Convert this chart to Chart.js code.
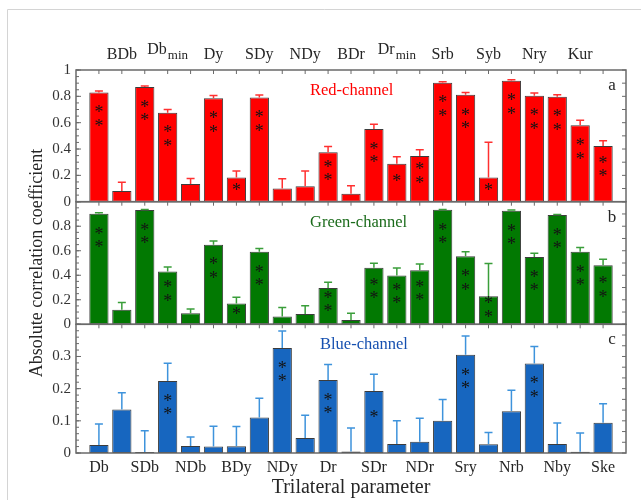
<!DOCTYPE html>
<html>
<head>
<meta charset="utf-8">
<script src="https://cdn.jsdelivr.net/npm/chart.js@4/dist/chart.umd.min.js"></script>
<style>
  html, body { margin: 0; padding: 0; background: #ffffff; }
  #wrap { width: 641px; height: 500px; position: relative; }
</style>
</head>
<body>
<div id="wrap"><canvas id="chart" width="641" height="500"></canvas></div>
<script>
// Trilateral parameters, in plotting order ("_" marks a subscript)
const params = ['Db', 'BDb', 'SDb', 'Db_min', 'NDb', 'Dy', 'BDy', 'SDy', 'NDy', 'NDy',
                'Dr', 'BDr', 'SDr', 'Dr_min', 'NDr', 'Srb', 'Sry', 'Syb', 'Nrb', 'Nry',
                'Nby', 'Kur', 'Ske'];

// Absolute correlation coefficients, upper error and significance stars per channel
const redValues  = [0.830, 0.081, 0.871, 0.676, 0.134, 0.785, 0.183, 0.792, 0.101, 0.117,
                    0.375, 0.061, 0.552, 0.289, 0.347, 0.904, 0.812, 0.183, 0.919, 0.805,
                    0.797, 0.580, 0.423];
const redErrors  = [0.010, 0.066, 0.007, 0.024, 0.043, 0.022, 0.050, 0.018, 0.074, 0.116,
                    0.045, 0.061, 0.036, 0.053, 0.048, 0.007, 0.018, 0.268, 0.007, 0.020,
                    0.016, 0.038, 0.040];
const redStars   = [2, 0, 2, 2, 0, 2, 1, 2, 0, 0, 2, 0, 2, 1, 2, 2, 2, 1, 2, 2, 2, 2, 2];

const greenValues = [0.901, 0.118, 0.932, 0.431, 0.091, 0.649, 0.170, 0.591, 0.063, 0.085,
                     0.297, 0.035, 0.462, 0.398, 0.440, 0.934, 0.555, 0.228, 0.926, 0.549,
                     0.891, 0.591, 0.481];
const greenErrors = [0.009, 0.060, 0.005, 0.036, 0.033, 0.030, 0.050, 0.027, 0.074, 0.066,
                     0.046, 0.055, 0.035, 0.061, 0.052, 0.003, 0.036, 0.267, 0.006, 0.031,
                     0.005, 0.036, 0.049];
const greenStars  = [2, 0, 2, 2, 0, 2, 1, 2, 0, 0, 2, 0, 2, 2, 2, 2, 2, 2, 2, 2, 2, 2, 2];

const blueValues = [0.025, 0.135, 0.003, 0.224, 0.022, 0.020, 0.021, 0.110, 0.326, 0.047,
                    0.227, 0.005, 0.193, 0.028, 0.035, 0.100, 0.305, 0.027, 0.130, 0.278,
                    0.028, 0.004, 0.094];
const blueErrors = [0.065, 0.052, 0.066, 0.055, 0.028, 0.063, 0.061, 0.060, 0.053, 0.070,
                    0.048, 0.073, 0.052, 0.072, 0.073, 0.066, 0.059, 0.037, 0.065, 0.053,
                    0.065, 0.058, 0.059];
const blueStars  = [0, 0, 0, 2, 0, 0, 0, 0, 2, 0, 2, 0, 1, 0, 0, 0, 2, 0, 0, 2, 0, 0, 0];

// y-axis tick values labelled on each panel
const redTicks   = [0, 0.2, 0.4, 0.6, 0.8, 1];
const greenTicks = [0, 0.2, 0.4, 0.6, 0.8];
const blueTicks  = [0, 0.1, 0.2, 0.3];

const SERIF = "'Liberation Serif', 'Times New Roman', serif";
const INK = '#262626';

// one empty slot on each side of the parameter list
const slots = ['', ...params.map(p => p.replace('_', '')), ''];
const padded = arr => [null, ...arr, null];

const panels = [
  { axis: 'yRed', values: redValues, errors: redErrors, stars: redStars,
    title: 'Red-channel', titleColor: '#ff0000', titleAt: 0.4255, letter: 'a',
    errColor: '#ff3030', major: 0.2, minor: 0.05, right: 0.1 },
  { axis: 'yGreen', values: greenValues, errors: greenErrors, stars: greenStars,
    title: 'Green-channel', titleColor: '#1b6b1b', titleAt: 0.4255, letter: 'b',
    errColor: '#3a9e3a', major: 0.2, minor: 0.05, right: 0.1 },
  { axis: 'yBlue', values: blueValues, errors: blueErrors, stars: blueStars,
    title: 'Blue-channel', titleColor: '#1650b0', titleAt: 0.4436, letter: 'c',
    errColor: '#3e93dc', major: 0.1, minor: 0.02, right: 0.1 / 3 }
];

function tickRun(ctx, scale, step, x, len) {
  const n = Math.round((scale.max - scale.min) / step);
  for (let k = 0; k <= n; k++) {
    const y = scale.getPixelForValue(scale.min + k * step);
    ctx.beginPath();
    ctx.moveTo(x, y);
    ctx.lineTo(x + len, y);
    ctx.stroke();
  }
}

const panelDecor = {
  id: 'panelDecor',
  beforeDraw(chart) {
    const ctx = chart.ctx;
    ctx.save();
    ctx.strokeStyle = '#d4d4d4';
    ctx.lineWidth = 1;
    ctx.beginPath();
    ctx.moveTo(7.5, 500);
    ctx.lineTo(7.5, 9.5);
    ctx.lineTo(641, 9.5);
    ctx.stroke();
    ctx.restore();
  },
  afterDatasetsDraw(chart) {
    const ctx = chart.ctx;
    const area = chart.chartArea;
    const xs = chart.scales.x;
    ctx.save();

    panels.forEach(p => {
      const ys = chart.scales[p.axis];
      const top = ys.top, bottom = ys.bottom;

      // error bars (upper side only)
      ctx.strokeStyle = p.errColor;
      ctx.lineWidth = 1.5;
      p.values.forEach((v, i) => {
        const x = xs.getPixelForValue(i + 1);
        const y0 = ys.getPixelForValue(v);
        const y1 = ys.getPixelForValue(v + p.errors[i]);
        ctx.beginPath();
        ctx.moveTo(x, y0);
        ctx.lineTo(x, y1);
        ctx.moveTo(x - 4, y1);
        ctx.lineTo(x + 4, y1);
        ctx.stroke();
      });

      // significance stars inside the bars
      ctx.fillStyle = '#141414';
      ctx.font = '18px ' + SERIF;
      ctx.textAlign = 'center';
      ctx.textBaseline = 'alphabetic';
      const m = ctx.measureText('*');
      const shift = (m.actualBoundingBoxAscent - m.actualBoundingBoxDescent) / 2;
      p.values.forEach((v, i) => {
        const n = p.stars[i];
        if (!n) return;
        const x = xs.getPixelForValue(i + 1);
        const yTop = ys.getPixelForValue(v);
        const h = ys.getPixelForValue(0) - yTop;
        const c = yTop + Math.min(0.36 * h, 23);
        const centres = n === 1 ? [c] : [c - 6.75, c + 6.75];
        centres.forEach(cy => ctx.fillText('*', x, cy + shift));
      });

      // frame
      ctx.strokeStyle = '#6a6a6a';
      ctx.lineWidth = 1.5;
      ctx.strokeRect(area.left, top, area.right - area.left, bottom - top);

      // inward ticks
      ctx.lineWidth = 1;
      tickRun(ctx, ys, p.major, area.left, 5);
      tickRun(ctx, ys, p.minor, area.left, 3);
      tickRun(ctx, ys, p.right, area.right, -4);
      for (let i = 1; i <= params.length; i++) {
        const x = xs.getPixelForValue(i);
        ctx.beginPath();
        ctx.moveTo(x, top);
        ctx.lineTo(x, top + 4);
        ctx.stroke();
      }

      // panel title and letter
      ctx.textBaseline = 'middle';
      ctx.textAlign = 'left';
      ctx.font = '16.5px ' + SERIF;
      ctx.fillStyle = p.titleColor;
      ctx.fillText(p.title, area.left + p.titleAt * (area.right - area.left), top + 20.5);
      ctx.textAlign = 'center';
      ctx.fillStyle = INK;
      ctx.font = '17px ' + SERIF;
      ctx.fillText(p.letter, area.right - 14, top + 15.5);
    });

    // parameter names along the top (every second slot)
    ctx.fillStyle = INK;
    ctx.textBaseline = 'alphabetic';
    params.forEach((name, i) => {
      if (i % 2 === 0) return;
      const x = xs.getPixelForValue(i + 1);
      const base = 58.5;
      const [main, sub] = name.split('_');
      ctx.font = '16px ' + SERIF;
      if (!sub) {
        ctx.textAlign = 'center';
        ctx.fillText(main, x, base);
        return;
      }
      const wMain = ctx.measureText(main).width;
      ctx.font = '13px ' + SERIF;
      const wSub = ctx.measureText(sub).width;
      const left = x - (wMain + wSub + 1) / 2;
      ctx.textAlign = 'left';
      ctx.font = '16px ' + SERIF;
      ctx.fillText(main, left, base - 5);
      ctx.font = '13px ' + SERIF;
      ctx.fillText(sub, left + wMain + 1, base);
    });
    ctx.restore();
  }
};

function yScale(weight, max, step, shown, title) {
  const scale = {
    type: 'linear',
    position: 'left',
    stack: 'panels',
    stackWeight: weight,
    min: 0,
    max: max,
    grid: { display: false, drawTicks: false },
    border: { display: false },
    ticks: {
      stepSize: step,
      autoSkip: false,
      padding: 5,
      color: '#333333',
      font: { family: SERIF, size: 15 },
      callback: v => shown.some(t => Math.abs(t - v) < 1e-6) ? String(+v.toFixed(2)) : ''
    },
    afterFit: s => { s.width = 76; }
  };
  if (title) scale.title = title;
  return scale;
}

// y-axis title, shared by all three panels (carried by the middle one)
const yTitle = {
  display: true,
  text: 'Absolute correlation coefficient',
  color: INK,
  font: { family: SERIF, size: 18 },
  padding: { top: 26, bottom: 0 }
};

const barStyle = {
  grouped: false,
  barPercentage: 0.84,
  categoryPercentage: 1,
  borderWidth: 1,
  borderColor: '#3c3c3c',
  borderSkipped: false
};

new Chart(document.getElementById('chart'), {
  type: 'bar',
  data: {
    labels: slots,
    datasets: [
      Object.assign({ label: 'Red-channel', data: padded(redValues), yAxisID: 'yRed',
        backgroundColor: '#ff0000' }, barStyle),
      Object.assign({ label: 'Green-channel', data: padded(greenValues), yAxisID: 'yGreen',
        backgroundColor: '#027902' }, barStyle),
      Object.assign({ label: 'Blue-channel', data: padded(blueValues), yAxisID: 'yBlue',
        backgroundColor: '#1766bf' }, barStyle)
    ]
  },
  options: {
    responsive: false,
    animation: false,
    devicePixelRatio: 1,
    layout: { padding: { left: 0, right: 15, top: 70, bottom: 0 } },
    plugins: { legend: { display: false }, tooltip: { enabled: false } },
    scales: {
      x: {
        type: 'category',
        offset: false,
        grid: { display: false, drawTicks: false },
        border: { display: false },
        ticks: {
          autoSkip: false,
          maxRotation: 0,
          minRotation: 0,
          padding: 5,
          color: INK,
          font: { family: SERIF, size: 16 },
          callback: (v, i) => (i % 2 === 1 ? slots[i] : '')
        },
        title: {
          display: true,
          text: 'Trilateral parameter',
          color: INK,
          font: { family: SERIF, size: 20 },
          padding: { top: 0, bottom: 0 }
        },
        afterFit: s => { s.height = 47; }
      },
      yBlue: yScale(128.7, 0.4, 0.1, blueTicks),
      yGreen: yScale(122.6, 1, 0.2, greenTicks, yTitle),
      yRed: yScale(131.7, 1, 0.2, redTicks)
    }
  },
  plugins: [panelDecor]
});
</script>
</body>
</html>
